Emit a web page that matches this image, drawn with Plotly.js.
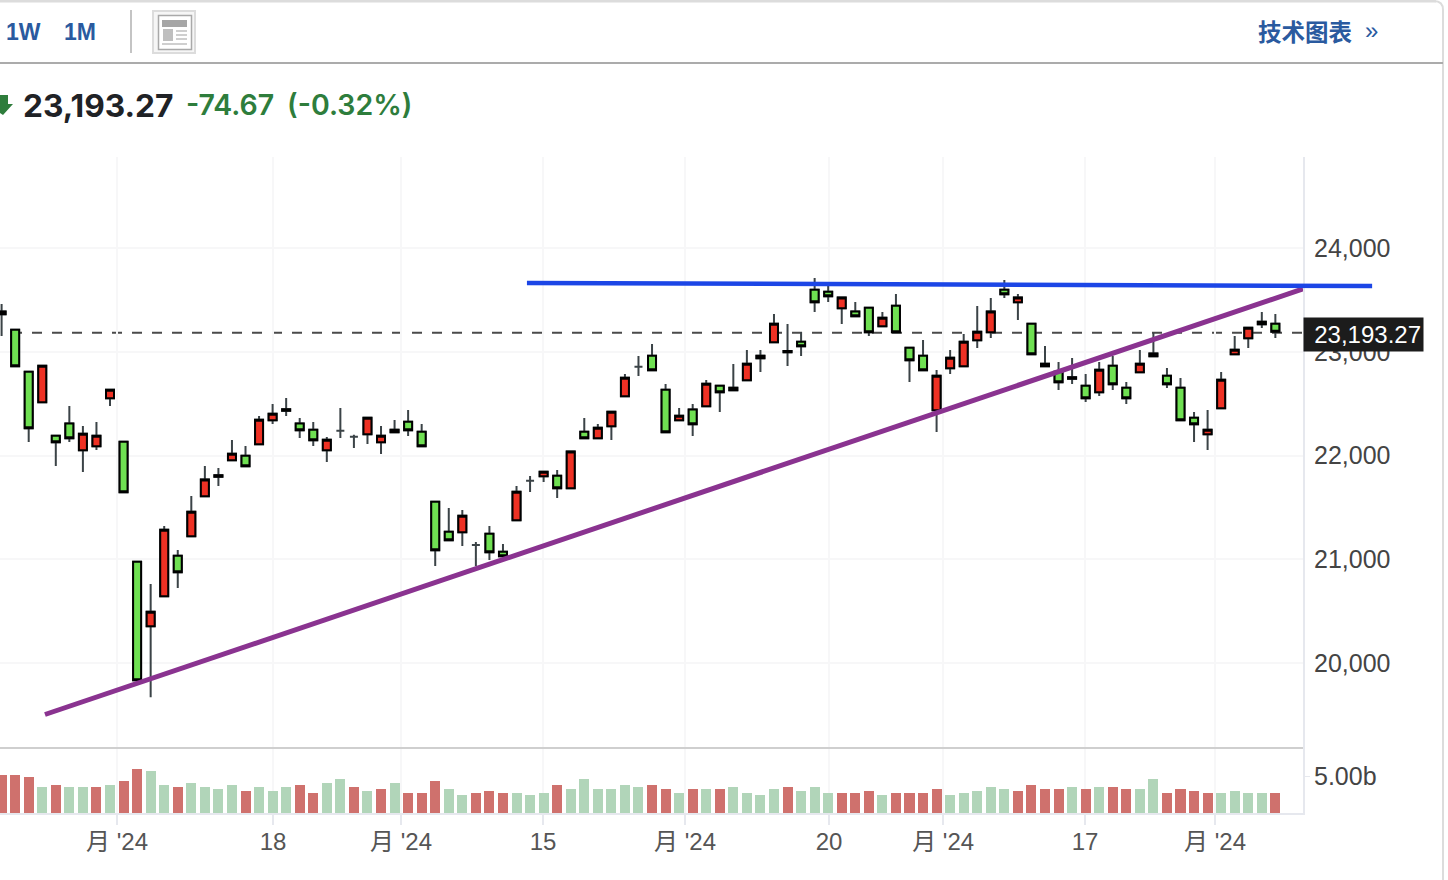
<!DOCTYPE html>
<html><head><meta charset="utf-8">
<script src="https://cdn.plot.ly/plotly-3.0.1.min.js"></script>
<style>html,body{margin:0;padding:0;background:#fff;overflow:hidden}#c{width:1448px;height:880px}</style>
</head><body><div id="c"></div><script>
const opens=[23363,23214,22809,22514,22192,22308,22051,22090,22552,22134,20977,20354,20643,21035,21222,21607,21796,21955,21999,22109,22340,22433,22308,22250,22051,22240,22182,22205,22128,22225,22327,22230,21555,21266,21260,21138,21247,21073,21376,21758,21800,21806,21685,22230,22167,22283,22572,22857,22963,22635,22340,22443,22475,22674,22630,22726,22938,23093,22996,23098,23600,23580,23420,23388,23426,23247,23445,23040,22963,22437,22842,22861,23112,23189,23600,23478,23272,22886,22809,22741,22674,22610,22867,22655,22803,22983,22770,22655,22365,22205,22456,22977,23131,23291,23272];
const highs=[23462,23214,22809,22867,22192,22478,22285,22324,22635,22134,20977,20762,21321,21090,21610,21900,21880,22150,22093,22382,22498,22555,22363,22324,22179,22459,22201,22365,22285,22343,22440,22305,21555,21495,21475,21167,21321,21148,21707,21803,21845,21861,22038,22363,22305,22423,22787,22960,23076,22690,22459,22498,22729,22674,22883,23018,23018,23365,23269,23192,23713,23674,23523,23481,23426,23385,23558,23040,23115,22825,23018,23173,23443,23520,23693,23558,23272,23057,22903,22941,22787,22903,22960,22710,23018,23185,22845,22748,22420,22440,22806,23153,23233,23385,23365];
const lows=[23153,22861,22131,22514,21900,22131,21842,22054,22478,21646,19833,19669,20643,20723,21222,21607,21707,21955,21897,22109,22305,22382,22170,22093,21938,22170,22073,22112,22015,22225,22189,22090,20935,21183,21128,20935,20993,21029,21376,21649,21745,21591,21685,22167,22167,22150,22572,22768,22822,22225,22340,22189,22475,22420,22630,22726,22806,23093,22864,22960,23385,23481,23269,23343,23153,23247,23189,22710,22822,22228,22787,22861,23038,23134,23520,23308,22977,22861,22633,22690,22517,22575,22633,22498,22803,22958,22652,22340,22131,22054,22456,22977,23038,23230,23134];
const closes=[23388,22861,22263,22867,22128,22167,22211,22192,22635,21646,19833,20495,21285,20875,21459,21768,21810,22018,21897,22346,22404,22446,22244,22147,22153,22240,22182,22365,22192,22250,22244,22090,21087,21183,21420,21138,21067,21029,21652,21758,21845,21685,22038,22167,22269,22423,22751,22857,22822,22225,22385,22302,22693,22610,22655,22886,22963,23272,23009,23054,23478,23536,23523,23343,23189,23330,23189,22919,22822,22770,22944,23098,23195,23388,23555,23523,22977,22861,22707,22755,22552,22828,22687,22552,22886,22958,22687,22340,22302,22250,22732,23021,23233,23266,23193.27];
const volumes=[5.23,5.23,4.96,3.58,3.86,3.58,3.58,3.58,3.86,4.41,6.06,5.79,3.86,3.58,4.13,3.58,3.31,3.86,3.03,3.58,3.03,3.58,3.86,2.75,4.13,4.68,3.58,3.03,3.31,4.13,2.75,2.75,4.41,3.31,2.48,2.75,3.03,2.75,2.75,2.48,2.75,3.86,3.31,4.68,3.31,3.31,3.86,3.58,3.86,3.31,2.75,3.31,3.31,3.31,3.58,2.75,2.48,3.31,3.58,3.03,3.58,2.75,2.75,2.75,3.03,2.48,2.75,2.75,2.75,3.31,2.48,2.75,3.03,3.58,3.31,3.03,3.86,3.31,3.31,3.58,3.31,3.58,3.58,3.31,3.31,4.68,2.75,3.31,3.03,2.75,2.75,3.03,2.75,2.75,2.75];
const volumeSides=("rrrgrggrgrrggrggggrgggrrggrgrgrrrggr"+"rrgggrggggggrrgrgrggggrgggrrrgrrrrgg"+"gggrrrrgrgrrggrrrrggggr").split("");
const tickPositions=[8.52,20.03,29.48,39.96,50.44,61.06,69.48,79.96,89.55];
const tickLabels=["月 '24","18","月 '24","15","月 '24","20","月 '24","17","月 '24"];
const priceTicks=[20000,21000,22000,23000,24000];
const priceTickLabels=["20,000","21,000","22,000","23,000","24,000"];
const resistanceX=[38.77,101.14], resistanceY=[23664,23635];
const supportX=[3.2,96.04], supportY=[19503,23607];
const lastPrice=23193.27, lastPriceLine=23185;

const W=1303, T=157, B=813, H=B-T, DIV=748;
const XR=[-0.118,96.04];
const px=x=>x/W, py=y=>(B-y)/H;
const xFrac=v=>(v-XR[0])/(XR[1]-XR[0]);
const idx=opens.map((_,i)=>i);
const solid=idx.filter(i=>opens[i]!==closes[i]);
const FONT="'Liberation Sans','Noto Sans CJK SC',sans-serif";
const RED="#ee3124", GREEN="#6fe052";

const traces=[
 {type:'bar',x:idx,y:volumes,xaxis:'x',yaxis:'y2',width:0.74,
  marker:{color:volumeSides.map(s=>s==='r'?'#cf716d':'#b1d5b9'),line:{width:0}},hoverinfo:'skip',showlegend:false},
 {type:'candlestick',x:idx,open:opens,high:highs,low:lows,close:closes,xaxis:'x',yaxis:'y',showlegend:false,
  increasing:{line:{color:'#3b4347',width:2},fillcolor:'#3b4347'},
  decreasing:{line:{color:'#3b4347',width:2},fillcolor:'#3b4347'}},
 {type:'candlestick',x:solid,open:solid.map(i=>opens[i]),close:solid.map(i=>closes[i]),
  high:solid.map(i=>Math.max(opens[i],closes[i])),low:solid.map(i=>Math.min(opens[i],closes[i])),
  xaxis:'x',yaxis:'y',showlegend:false,
  increasing:{line:{color:'#000',width:2},fillcolor:RED},
  decreasing:{line:{color:'#000',width:2},fillcolor:GREEN}},
 {type:'scatter',mode:'lines',x:supportX,y:supportY,xaxis:'x',yaxis:'y',cliponaxis:false,showlegend:false,
  line:{color:'#8a3390',width:5}}
];
const pline=(x0,y0,x1,y1,color,width)=>({type:'line',xref:'paper',yref:'paper',x0:px(x0),y0:py(y0),x1:px(x1),y1:py(y1),line:{color,width}});
const prect=(x0,y0,x1,y1,fill,lineColor,lw)=>({type:'rect',xref:'paper',yref:'paper',x0:px(x0),y0:py(y0),x1:px(x1),y1:py(y1),fillcolor:fill,line:{color:lineColor||fill,width:lw||0}});
const shapes=[
 {type:'line',xref:'paper',yref:'y',layer:'below',x0:px(12),x1:1,y0:lastPriceLine,y1:lastPriceLine,line:{color:'#4a4a4a',width:2,dash:'10px,10px'}},
 {type:'line',xref:'paper',yref:'y',x0:xFrac(resistanceX[0]),x1:xFrac(resistanceX[1]),y0:resistanceY[0],y1:resistanceY[1],line:{color:'#1c46e6',width:4.5}},
 pline(0,DIV,W,DIV,'#cfcfcf',2),
 pline(0,1,1436,1,'#dcdcdc',3),
 {type:'path',xref:'paper',yref:'paper',path:`M ${px(1434)} ${py(1)} Q ${px(1443)} ${py(1)} ${px(1443)} ${py(10)} L ${px(1443)} ${py(880)}`,line:{color:'#dcdcdc',width:2}},
 pline(0,63,1443,63,'#ababab',2),
 pline(131,10,131,53,'#c4c4c4',2),
 prect(153,11,195,53,'#f6f6f6','#dcdcdc',2),
 prect(158.5,15.5,191.5,49.5,'#ffffff','#a9a9a9',1.5),
 prect(162,20,187,27,'#a6a6a6'),
 prect(163,29,173,41,'#bfbfbf'),
 pline(176,31,187,31,'#bfbfbf',1.5),pline(176,35,187,35,'#bfbfbf',1.5),pline(176,39,187,39,'#bfbfbf',1.5),
 pline(162,44,187,44,'#bfbfbf',1.5),
 {type:'path',xref:'paper',yref:'paper',fillcolor:'#2e7d3c',line:{width:0},
  path:`M ${px(0)} ${py(95)} L ${px(8)} ${py(95)} L ${px(8)} ${py(104)} L ${px(13)} ${py(104)} L ${px(3)} ${py(115)} L ${px(0)} ${py(113)} Z`}
];
const note=(text,x,y,size,color,family,weight)=>({xref:'paper',yref:'paper',x:px(x),y:py(y),text,showarrow:false,xanchor:'left',yanchor:'middle',
  font:{size,color,family:family||FONT,weight:weight||400},borderpad:0});
const annotations=[
 note('1W',5,32,23,'#2a5a9f',FONT,700),
 note('1M',63,32,23,'#2a5a9f',FONT,700),
 note('技术图表',1257,31.5,23.5,'#2a5a9f',"'Noto Sans CJK SC'",700),
 note('»',1364,31,24,'#2a5a9f',FONT,400),
 note('23,193.27',22,105.5,31.7,'#1f2226',"Inter",700),
 note('-74.67',184.5,104.5,28.5,'#2e7d3c',"Inter",600),
 note('(-0.32%)',285.5,104.5,28.5,'#2e7d3c',"Inter",600),
 {xref:'paper',yref:'y',x:1,y:lastPriceLine,yshift:-2,text:'23,193.27',showarrow:false,xanchor:'left',yanchor:'middle',
  width:115,height:29,align:'right',bgcolor:'#1c1c1c',borderpad:2,font:{size:24,color:'#ffffff',family:FONT}}
];
const layout={
 width:1448,height:880,paper_bgcolor:'#fff',plot_bgcolor:'#fff',showlegend:false,
 margin:{l:0,r:1448-W,t:T,b:880-B,pad:0},boxmode:'overlay',boxgap:0.41,boxgroupgap:0,bargap:0,
 xaxis:{type:'linear',range:XR,domain:[0,1],anchor:'y2',rangeslider:{visible:false},
  tickmode:'array',tickvals:tickPositions,ticktext:tickLabels,ticks:'outside',ticklen:10,tickwidth:2,tickcolor:'#e6e8ee',
  showgrid:true,gridcolor:'#f7f7f8',gridwidth:2,showline:true,linecolor:'#e6e8ee',linewidth:2,zeroline:false,
  tickfont:{family:FONT,size:24,color:'#555'},ticklabelstandoff:-4,automargin:false},
 yaxis:{domain:[py(DIV),1],side:'right',anchor:'x',range:[19180,24879],tickmode:'array',tickvals:priceTicks,ticktext:priceTickLabels,
  ticks:'outside',ticklen:5,tickwidth:1.5,tickcolor:'#ffffff',showgrid:true,gridcolor:'#f7f7f8',gridwidth:2,
  showline:true,linecolor:'#e6e8ee',linewidth:2,zeroline:false,tickfont:{family:FONT,size:25,color:'#444'},ticklabelstandoff:-1,automargin:false},
 yaxis2:{domain:[0,py(DIV)],side:'right',anchor:'x',range:[0,8.95],tickmode:'array',tickvals:[5],ticktext:['5.00b'],
  ticks:'outside',ticklen:5,tickwidth:1.5,tickcolor:'#e6e8ee',showgrid:false,showline:true,linecolor:'#e6e8ee',linewidth:2,zeroline:false,
  tickfont:{family:FONT,size:25,color:'#444'},ticklabelstandoff:-1,automargin:false},
 shapes,annotations
};
Plotly.newPlot('c',traces,layout,{displayModeBar:false,staticPlot:true});
</script></body></html>
